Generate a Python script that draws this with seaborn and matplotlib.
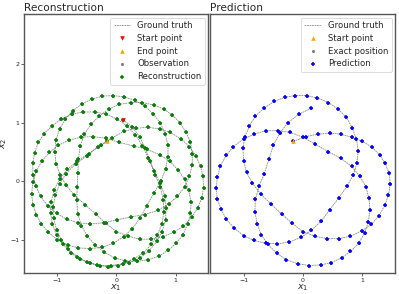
import matplotlib
matplotlib.use("Agg")
import matplotlib.pyplot as plt
import pandas as pd
import seaborn as sns

# ---------------- data ----------------
recon_x1 = [0.11, 0.26, 0.39, 0.49, 0.57, 0.65, 0.74, 0.79, 0.80, 0.77, 0.69, 0.59, 0.45, 0.29, 0.11, -0.09, -0.27,
            -0.45, -0.61, -0.76, -0.90, -1.01, -1.08, -1.11, -1.10, -1.05, -0.96, -0.83, -0.66, -0.47, -0.26, -0.07, 0.13, 0.33, 0.53, 0.73, 0.91, 1.09, 1.23, 1.34, 1.42, 1.46,
            1.47, 1.44, 1.37, 1.27, 1.13, 0.97, 0.78, 0.59, 0.39, 0.20, 0.00, -0.18, -0.35, -0.53, -0.71, -0.85, -0.95, -1.02, -1.04, -1.02, -0.96, -0.86, -0.74, -0.58, -0.41,
            -0.24, -0.06, 0.12, 0.31, 0.48, 0.62, 0.74, 0.82, 0.87, 0.87, 0.83, 0.75, 0.63, 0.51, 0.40, 0.27, 0.12, -0.05, -0.24, -0.44, -0.64, -0.82, -1.00, -1.15, -1.27,
            -1.35, -1.41, -1.43, -1.41, -1.35, -1.26, -1.13, -0.98, -0.80, -0.60, -0.39, -0.17, 0.05, 0.29, 0.52, 0.73, 0.90, 1.04, 1.15, 1.22, 1.26, 1.25, 1.20, 1.12, 1.01,
            0.87, 0.72, 0.54, 0.35, 0.15, -0.03, -0.21, -0.36, -0.49, -0.59, -0.65, -0.67, -0.66, -0.65, -0.64, -0.61, -0.54, -0.43, -0.29, -0.13, 0.05, 0.24, 0.44, 0.63, 0.80,
            0.94, 1.07, 1.17, 1.25, 1.28, 1.28, 1.23, 1.15, 1.03, 0.88, 0.70, 0.48, 0.25, 0.01, -0.21, -0.44, -0.65, -0.84, -1.01, -1.16, -1.28, -1.36, -1.41, -1.41, -1.38,
            -1.32, -1.22, -1.09, -0.93, -0.75, -0.57, -0.36, -0.17, 0.01, 0.18, 0.32, 0.44, 0.54, 0.64, 0.74, 0.82, 0.84, 0.83, 0.77, 0.68, 0.55, 0.40, 0.22, 0.03, -0.15,
            -0.33, -0.50, -0.66, -0.81, -0.93, -1.01, -1.06, -1.07, -1.03, -0.96, -0.85, -0.69, -0.50, -0.31, -0.16]
recon_x2 = [1.05, 0.93, 0.76, 0.56, 0.34, 0.11, -0.10, -0.32, -0.53, -0.73, -0.92, -1.08, -1.23, -1.33, -1.41, -1.44, -1.44,
            -1.40, -1.33, -1.23, -1.08, -0.92, -0.74, -0.54, -0.35, -0.15, 0.03, 0.20, 0.34, 0.47, 0.61, 0.74, 0.85, 0.90, 0.92, 0.89, 0.83, 0.72, 0.59, 0.43, 0.25, 0.08,
            -0.11, -0.29, -0.46, -0.62, -0.77, -0.87, -0.95, -0.99, -0.99, -0.94, -0.86, -0.72, -0.56, -0.40, -0.24, -0.07, 0.11, 0.30, 0.50, 0.70, 0.89, 1.06, 1.20, 1.32, 1.40,
            1.45, 1.46, 1.44, 1.38, 1.28, 1.15, 0.99, 0.81, 0.61, 0.41, 0.21, 0.00, -0.21, -0.42, -0.63, -0.81, -0.95, -1.06, -1.13, -1.15, -1.14, -1.09, -1.00, -0.87, -0.73,
            -0.57, -0.40, -0.22, -0.02, 0.17, 0.34, 0.49, 0.61, 0.70, 0.75, 0.76, 0.73, 0.66, 0.60, 0.54, 0.45, 0.34, 0.19, 0.03, -0.16, -0.36, -0.55, -0.74, -0.92, -1.06,
            -1.18, -1.28, -1.34, -1.37, -1.36, -1.31, -1.21, -1.09, -0.94, -0.76, -0.56, -0.33, -0.10, 0.14, 0.38, 0.60, 0.80, 0.97, 1.11, 1.23, 1.31, 1.34, 1.34, 1.30, 1.23,
            1.13, 1.00, 0.84, 0.66, 0.47, 0.28, 0.08, -0.10, -0.26, -0.39, -0.50, -0.57, -0.61, -0.66, -0.71, -0.73, -0.71, -0.65, -0.55, -0.42, -0.26, -0.08, 0.11, 0.31, 0.48,
            0.66, 0.81, 0.94, 1.06, 1.14, 1.18, 1.18, 1.14, 1.06, 0.94, 0.79, 0.60, 0.39, 0.17, -0.04, -0.26, -0.46, -0.66, -0.86, -1.03, -1.19, -1.31, -1.39, -1.44, -1.46,
            -1.43, -1.38, -1.29, -1.16, -1.00, -0.83, -0.63, -0.44, -0.24, -0.05, 0.13, 0.29, 0.43, 0.59, 0.68]

pred_x1 = [-0.16, 0.05, 0.25, 0.45, 0.64, 0.82, 1.00, 1.16, 1.29, 1.38, 1.45,
           1.47, 1.44, 1.38, 1.28, 1.15, 0.99, 0.80, 0.61, 0.40, 0.20, 0.00, -0.18, -0.36, -0.54, -0.71, -0.85, -0.95, -1.00, -1.01, -0.98, -0.90, -0.80, -0.65, -0.48, -0.31,
           -0.13, 0.06, 0.24, 0.43, 0.59, 0.73, 0.83, 0.90, 0.93, 0.91, 0.85, 0.74, 0.60, 0.45, 0.31, 0.14, -0.03, -0.23, -0.43, -0.63, -0.83, -1.00, -1.16, -1.29, -1.38,
           -1.44, -1.46, -1.44, -1.39, -1.29, -1.17, -1.00, -0.82, -0.63, -0.42, -0.21, 0.00, 0.21, 0.43, 0.64, 0.82, 0.96, 1.06, 1.11, 1.13, 1.10, 1.04, 0.94, 0.80, 0.65,
           0.48, 0.30, 0.11, -0.09, -0.28, -0.44, -0.59, -0.70, -0.77, -0.81, -0.80, -0.74, -0.65, -0.57, -0.50, -0.39, -0.25, -0.07, 0.13]
pred_x2 = [0.68, 0.76, 0.80, 0.82, 0.80, 0.75, 0.68, 0.58, 0.45, 0.31, 0.14,
           -0.05, -0.24, -0.41, -0.59, -0.74, -0.85, -0.94, -0.98, -0.98, -0.94, -0.86, -0.72, -0.56, -0.39, -0.22, -0.04, 0.15, 0.35, 0.56, 0.75, 0.94, 1.11, 1.25, 1.36, 1.43,
           1.46, 1.46, 1.42, 1.34, 1.23, 1.09, 0.91, 0.72, 0.52, 0.31, 0.11, -0.09, -0.29, -0.49, -0.68, -0.84, -0.96, -1.04, -1.07, -1.06, -1.01, -0.93, -0.80, -0.65, -0.48,
           -0.31, -0.12, 0.07, 0.26, 0.44, 0.59, 0.72, 0.80, 0.86, 0.86, 0.83, 0.75, 0.63, 0.50, 0.39, 0.25, 0.08, -0.10, -0.29, -0.49, -0.70, -0.88, -1.06, -1.20, -1.31,
           -1.39, -1.43, -1.44, -1.41, -1.34, -1.23, -1.08, -0.92, -0.73, -0.52, -0.31, -0.09, 0.13, 0.38, 0.61, 0.82, 1.00, 1.14, 1.24]

x_ticks = [-1, 0, 1]
y_ticks = [-1, 0, 1, 2]
titles = ["Reconstruction", "Prediction"]
legend_left = ["Ground truth", "Start point", "End point", "Observation", "Reconstruction"]
legend_right = ["Ground truth", "Start point", "Exact position", "Prediction"]

# ---------------- figure ----------------
sns.set_theme(style="white")
plt.rcParams["font.family"] = ["DejaVu Sans"]
plt.rcParams["mathtext.fontset"] = "dejavusans"

fig = plt.figure(figsize=(3.99, 2.94), dpi=100)
axL = fig.add_axes([0.060, 0.071, 0.462, 0.881])
axR = fig.add_axes([0.527, 0.071, 0.463, 0.881], sharey=axL)

dfL = pd.DataFrame({"x1": recon_x1, "x2": recon_x2})
dfR = pd.DataFrame({"x1": pred_x1, "x2": pred_x2})

gt_kw = dict(x="x1", y="x2", sort=False, estimator=None, color="#8c8c8c",
             linewidth=0.6, dashes=False, linestyle=(0, (2.2, 0.8)))

# left panel
sns.lineplot(data=dfL, ax=axL, label="Ground truth", **gt_kw)
sns.scatterplot(data=dfL, x="x1", y="x2", ax=axL, color="#7f7f7f", s=5, marker="o",
                linewidth=0, label="Observation", zorder=3)
sns.scatterplot(data=dfL, x="x1", y="x2", ax=axL, color="green", s=11, marker="+",
                linewidth=1.1, label="Reconstruction", zorder=4)
sns.scatterplot(data=dfL.iloc[[0]], x="x1", y="x2", ax=axL, color="red", s=11, marker="v",
                linewidth=0, label="Start point", zorder=5)
sns.scatterplot(data=dfL.iloc[[-1]], x="x1", y="x2", ax=axL, color="orange", s=11, marker="^",
                linewidth=0, label="End point", zorder=5)

# right panel
sns.lineplot(data=dfR, ax=axR, label="Ground truth", **gt_kw)
sns.scatterplot(data=dfR, x="x1", y="x2", ax=axR, color="#7f7f7f", s=5, marker="o",
                linewidth=0, label="Exact position", zorder=3)
sns.scatterplot(data=dfR, x="x1", y="x2", ax=axR, color="blue", s=11, marker="+",
                linewidth=1.1, label="Prediction", zorder=4)
sns.scatterplot(data=dfR.iloc[[0]], x="x1", y="x2", ax=axR, color="orange", s=11, marker="^",
                linewidth=0, label="Start point", zorder=5)

for ax, title, order in [(axL, titles[0], legend_left), (axR, titles[1], legend_right)]:
    ax.set_xlim(-1.56, 1.55)
    ax.set_ylim(-1.57, 2.85)
    ax.set_xticks(x_ticks)
    ax.set_title(title, loc="left", fontsize=7.6, pad=2)
    ax.set_xlabel("$x_1$", fontsize=6.8, labelpad=0)
    ax.tick_params(axis="both", labelsize=4.5, length=2, width=0.5, pad=1.5,
                   bottom=True, left=True)
    for sp in ax.spines.values():
        sp.set_color("#555555")
        sp.set_linewidth(1.0)
    h, l = ax.get_legend_handles_labels()
    hd = dict(zip(l, h))
    leg = ax.legend([hd[k] for k in order], order, loc="upper right", fontsize=6.1,
                    frameon=True, fancybox=True, borderaxespad=0.4, handlelength=2.0,
                    labelspacing=0.45, borderpad=0.4, handletextpad=0.8)
    leg.get_frame().set_edgecolor("#cccccc")
    leg.get_frame().set_linewidth(0.6)

axL.set_yticks(y_ticks)
axL.set_ylabel("$x_2$", fontsize=6.8, labelpad=0.5)
axR.set_ylabel("")
axR.tick_params(axis="y", left=False, labelleft=False)

fig.savefig("out.png", dpi=100)
